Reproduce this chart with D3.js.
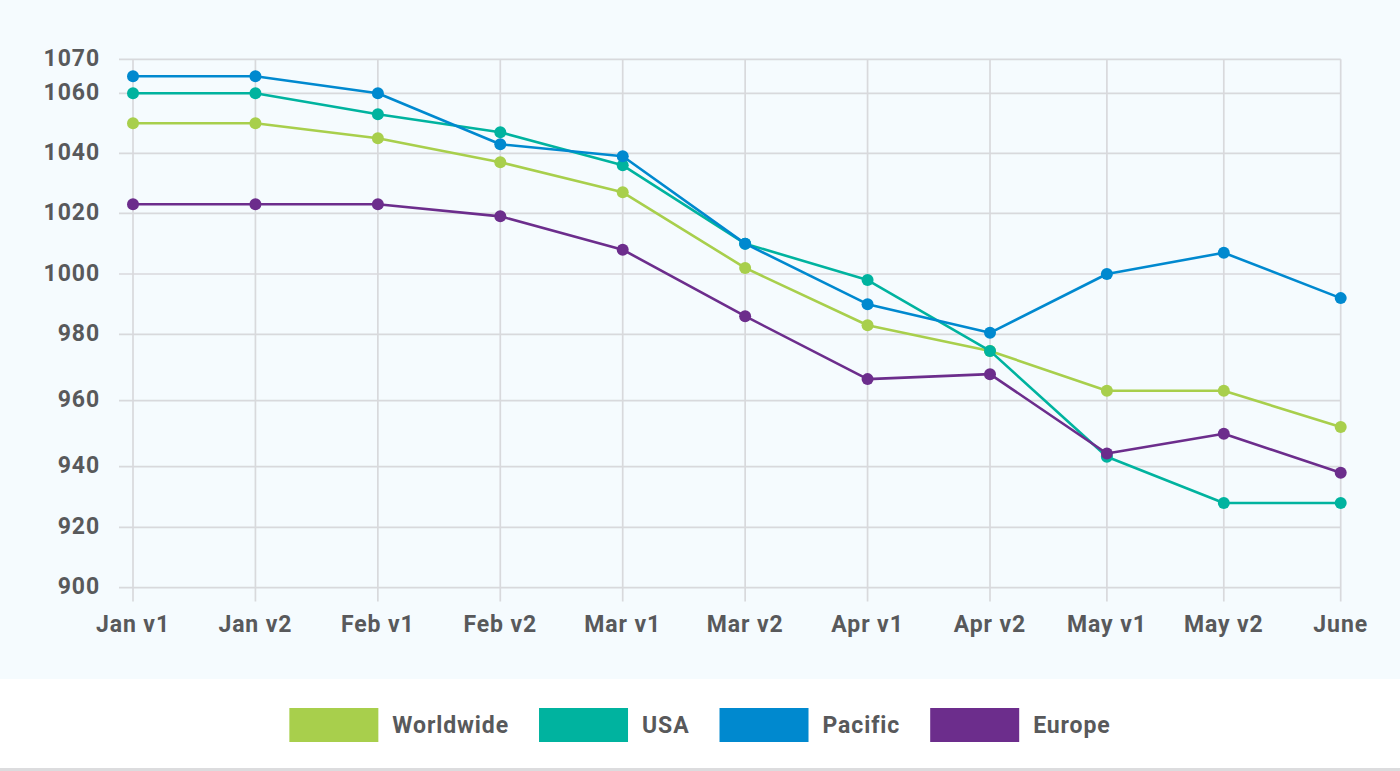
<!DOCTYPE html>
<html>
<head>
<meta charset="utf-8">
<script src="https://cdn.jsdelivr.net/npm/d3@7"></script>
<style>
  html, body { margin: 0; padding: 0; background: #ffffff; }
  svg { display: block; }
  text { font-family: Roboto, "Noto Sans", sans-serif; font-weight: 700; fill: #58595b; letter-spacing: 0.9px; }
</style>
</head>
<body>
<svg id="chart" width="1400" height="771"></svg>
<script>
const categories = ["Jan v1","Jan v2","Feb v1","Feb v2","Mar v1","Mar v2","Apr v1","Apr v2","May v1","May v2","June"];
const yTicks = [900, 920, 940, 960, 980, 1000, 1020, 1040, 1060, 1070];
const seriesNames = ["Worldwide", "USA", "Pacific", "Europe"];
const seriesColors = ["#a8cf4c", "#00b39f", "#0089cf", "#6c2d8c"];
const worldwide = [1050, 1050, 1045, 1037, 1027, 1002, 983, 975, 963, 963, 952];
const usa       = [1060, 1060, 1053, 1047, 1036, 1010, 998, 975, 943, 928, 928];
const pacific   = [1065, 1065, 1060, 1043, 1039, 1010, 990, 980.5, 1000, 1007, 992];
const europe    = [1023, 1023, 1023, 1019, 1008, 986, 966.5, 968, 944, 950, 938];
const seriesValues = [worldwide, usa, pacific, europe];

const svg = d3.select("#chart");
const W = 1400, H = 771;

// backgrounds
svg.append("rect").attr("x", 0).attr("y", 0).attr("width", W).attr("height", 679).attr("fill", "#f5fbfe");
svg.append("rect").attr("x", 0).attr("y", 679).attr("width", W).attr("height", 92).attr("fill", "#ffffff");
svg.append("rect").attr("x", 0).attr("y", 768).attr("width", W).attr("height", 3).attr("fill", "#dcdcde");

// scales (the reference axis is not evenly spaced; tick stops mapped piecewise)
const yRange = [587.7, 527.3, 466.7, 400.7, 334.3, 274, 213.3, 153.3, 93.3, 59.3];
const y = d3.scaleLinear().domain(yTicks).range(yRange);
const xIdx = d3.scaleLinear().domain([0, 7, 10]).range([133, 990, 1340.7]);
const x = c => xIdx(categories.indexOf(c));

const grid = svg.append("g");
const gridColor = "#d8d9dc";
const xLeft = 119, xRight = 1340.7;
const yTop = 59.3, yBottom = 601.5;

// horizontal grid lines
grid.selectAll("line.h").data(yTicks).join("line")
  .attr("class", "h")
  .attr("x1", xLeft).attr("x2", xRight)
  .attr("y1", d => y(d)).attr("y2", d => y(d))
  .attr("stroke", gridColor).attr("stroke-width", 1.7);

// vertical grid lines
grid.selectAll("line.v").data(categories).join("line")
  .attr("class", "v")
  .attr("x1", d => x(d)).attr("x2", d => x(d))
  .attr("y1", yTop).attr("y2", yBottom)
  .attr("stroke", gridColor).attr("stroke-width", 1.7);

// y tick labels
svg.append("g").selectAll("text").data(yTicks).join("text")
  .attr("x", 100).attr("y", d => y(d) - 1)
  .attr("text-anchor", "end").attr("dominant-baseline", "central")
  .attr("font-size", 23)
  .text(d => d);

// x tick labels
svg.append("g").selectAll("text").data(categories).join("text")
  .attr("x", d => x(d)).attr("y", 632)
  .attr("text-anchor", "middle")
  .attr("font-size", 23)
  .text(d => d);

// lines & points
const line = d3.line().x((d, i) => x(categories[i])).y(d => y(d));
seriesValues.forEach((vals, si) => {
  const g = svg.append("g");
  g.append("path").datum(vals)
    .attr("d", line)
    .attr("fill", "none")
    .attr("stroke", seriesColors[si])
    .attr("stroke-width", 2.6)
    .attr("stroke-linejoin", "round");
  g.selectAll("circle").data(vals).join("circle")
    .attr("cx", (d, i) => x(categories[i]))
    .attr("cy", d => y(d))
    .attr("r", 6)
    .attr("fill", seriesColors[si]);
});

// legend
const legend = svg.append("g");
const boxW = 89, boxH = 34, textGap = 14, itemGap = 30;
let items = seriesNames.map((name, i) => {
  const g = legend.append("g");
  g.append("rect").attr("x", 0).attr("y", 708).attr("width", boxW).attr("height", boxH).attr("fill", seriesColors[i]);
  const t = g.append("text").attr("x", boxW + textGap).attr("y", 725)
    .attr("dominant-baseline", "central").attr("font-size", 23).text(name);
  const w = boxW + textGap + t.node().getComputedTextLength();
  return { g, w };
});
const total = d3.sum(items, d => d.w) + itemGap * (items.length - 1);
let cx = 700 - total / 2;
items.forEach(it => {
  it.g.attr("transform", `translate(${cx},0)`);
  cx += it.w + itemGap;
});
</script>
</body>
</html>
